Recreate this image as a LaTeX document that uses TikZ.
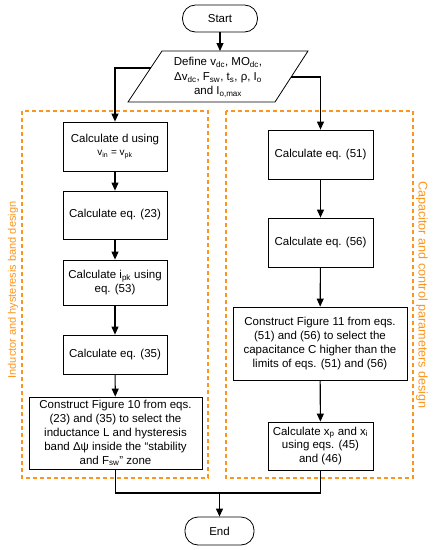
\documentclass[tikz,border=0pt]{standalone}
\usepackage{fontspec}
\setmainfont{Liberation Sans}
\usetikzlibrary{arrows.meta}
\definecolor{dorange}{RGB}{250,150,30}
\newcommand{\sbs}[1]{\textsubscript{#1}}
\tikzset{
  every node/.style={font=\fontsize{11.5}{13.9}\selectfont},
  stepbox/.style={draw, line width=0.8pt, inner sep=0pt, align=center},
  term/.style={draw, line width=0.8pt, rounded corners=13pt, inner sep=0pt},
  arr/.style={line width=1.1pt, -{Triangle[length=8pt,width=7pt]}},
  conn/.style={line width=1.1pt},
  grp/.style={draw=dorange, line width=1.1pt, dash pattern=on 4pt off 3pt},
  grplabel/.style={text=dorange, inner sep=0pt}
}
\begin{document}
\begin{tikzpicture}[x=1pt,y=-1pt]
\useasboundingbox (0,0) rectangle (437,550);
% group frames
\draw[grp] (22,111) rectangle (208,478);
\draw[grp] (226,111) rectangle (413,478);
\node[grplabel, rotate=90, font=\fontsize{11}{13}\selectfont] (lbl1) at (13,290) {Inductor and hysteresis band design};
\node[grplabel, rotate=-90, font=\fontsize{12.6}{15}\selectfont] (lbl2) at (422,295) {Capacitor and control parameters design};
% terminals
\node[term, minimum width=75pt, minimum height=27pt] (start) at (220,18.5) {Start};
\node[term, minimum width=69pt, minimum height=28pt] (end) at (219.5,531) {End};
% input parallelogram
\draw[line width=0.8pt] (162,51) -- (308,51) -- (275,102) -- (128,102) -- cycle;
\coordinate (deftop) at (220,51);
\coordinate (defl) at (150.7,68);
\coordinate (defr) at (291.2,77);
\node[align=center, font=\fontsize{11.5}{14.5}\selectfont] (def) at (218,77.5)
  {Define v\sbs{dc}, MO\sbs{dc},\\ Δv\sbs{dc}, F\sbs{sw}, t\sbs{s}, ρ, I\sbs{o}\\ and I\sbs{o,max}};
% left column
\node[stepbox, minimum width=104pt, minimum height=49pt] (l1) at (115,146.5)
  {Calculate d using\\[-1pt] {\fontsize{10}{12}\selectfont v\sbs{in} = v\sbs{pk}}};
\node[stepbox, minimum width=104pt, minimum height=48pt] (l2) at (115,215) {Calculate eq. (23)};
\node[stepbox, minimum width=104pt, minimum height=45pt] (l3) at (115,282.5) {Calculate i\sbs{pk} using\\ eq. (53)};
\node[stepbox, minimum width=104pt, minimum height=39pt] (l4) at (115,354.5) {Calculate eq. (35)};
\node[stepbox, minimum width=173pt, minimum height=72pt] (l5) at (115.5,433)
  {Construct Figure 10 from eqs.\\ (23) and (35) to select the\\ inductance L and hysteresis\\ band Δψ inside the “stability\\ and F\sbs{sw}” zone};
% right column
\node[stepbox, minimum width=105pt, minimum height=49pt] (r1) at (320.5,154.5) {Calculate eq. (51)};
\node[stepbox, minimum width=105pt, minimum height=49pt] (r2) at (320.5,242.5) {Calculate eq. (56)};
\node[stepbox, minimum width=174pt, minimum height=73pt] (r3) at (320,343.5)
  {Construct Figure 11 from eqs.\\ (51) and (56) to select the\\ capacitance C higher than the\\ limits of eqs. (51) and (56)};
\node[stepbox, minimum width=105pt, minimum height=48pt] (r4) at (320.5,446)
  {Calculate x\sbs{p} and x\sbs{i}\\ using eqs. (45)\\ and (46)};
\coordinate (join) at (219.5,493);
% connectors
\draw[arr] (start) -- (deftop);
\draw[arr] (defl) -| (l1.north);
\draw[arr] (defr) -| (r1.north);
\draw[arr] (l1) -- (l2);
\draw[arr] (l2) -- (l3);
\draw[arr] (l3) -- (l4);
\draw[arr] (l4) -- (l5);
\draw[arr] (r1) -- (r2);
\draw[arr] (r2) -- (r3);
\draw[arr] (r3) -- (r4);
\draw[conn] (l5.south) |- (join) -| (r4.south);
\draw[arr] (join) -- (end);
\end{tikzpicture}
\end{document}
